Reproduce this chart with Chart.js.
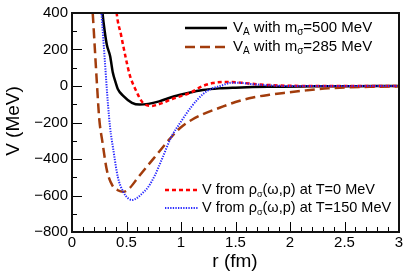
<!DOCTYPE html>
<html>
<head>
<meta charset="utf-8">
<script src="https://cdn.jsdelivr.net/npm/chart.js@4.4.0/dist/chart.umd.min.js"></script>
<style>
  html, body { margin: 0; padding: 0; background: #fff; }
  canvas { display: block; }
</style>
</head>
<body>
<canvas id="potential-chart" width="409" height="276"></canvas>
<script>
// r in fm, V in MeV
const rBlack = [0.27, 0.28, 0.30, 0.32, 0.35, 0.375, 0.40, 0.42, 0.47, 0.55, 0.62, 0.70, 0.80, 0.94, 1.05, 1.20, 1.35, 1.50, 1.80, 2.20, 2.60, 3.00];
const vBlack = [480, 400, 300, 225, 163, 72, 20, -16, -54, -92, -102, -98, -84, -56, -40, -22, -13, -9, -4, -2, -1, 0];

const rBrown = [0.18, 0.19, 0.21, 0.23, 0.25, 0.28, 0.32, 0.37, 0.42, 0.47, 0.52, 0.61, 0.76, 0.91, 1.00, 1.10, 1.20, 1.36, 1.50, 1.66, 1.81, 1.97, 2.15, 2.35, 2.55, 2.80, 3.00];
const vBrown = [480, 400, 200, 0, -180, -310, -462, -545, -571, -580, -565, -498, -389, -281, -226, -185, -155, -118, -88, -63, -48, -36, -24, -13, -7, -4, -2];

const rRed = [0.40, 0.41, 0.45, 0.49, 0.53, 0.58, 0.65, 0.73, 0.82, 0.92, 1.08, 1.20, 1.29, 1.42, 1.55, 1.69, 1.85, 2.00, 2.50, 3.00];
const vRed = [480, 400, 280, 163, 60, -16, -92, -109, -95, -71, -38, 0, 16, 22, 18, 10, 4, 1, 0, 0];

const rBlue = [0.26, 0.27, 0.30, 0.33, 0.35, 0.38, 0.42, 0.47, 0.52, 0.55, 0.60, 0.65, 0.70, 0.76, 0.82, 0.91, 1.00, 1.10, 1.20, 1.28, 1.36, 1.47, 1.55, 1.66, 1.80, 2.00, 2.50, 3.00];
const vBlue = [480, 400, 150, -100, -230, -353, -498, -580, -618, -625, -612, -585, -553, -490, -408, -281, -195, -110, -45, -15, 0, 18, 17, 10, 4, 0, 0, 0];

const xTicks = [0, 0.5, 1, 1.5, 2, 2.5, 3];
const yTicks = [-800, -600, -400, -200, 0, 200, 400];

function pts(xs, ys) { return xs.map((x, i) => ({ x: x, y: ys[i] })); }

const FONT = '"Liberation Sans", Arial, Helvetica, sans-serif';

// legend entries: text pieces, sub = subscript
const legendTop = [
    { color: '#000', dash: [], width: 2.5, parts: [['V'], ['A', 1], [' with m'], ['\u03c3', 1], ['=500 MeV']] },
    { color: '#a23c0c', dash: [10, 5], width: 2.5, parts: [['V'], ['A', 1], [' with m'], ['\u03c3', 1], ['=285 MeV']] }
];
const legendBottom = [
    { color: '#ff0000', dash: [4, 3], width: 2.5, parts: [['V from \u03c1'], ['\u03c3', 1], ['(\u03c9,p) at T=0 MeV']] },
    { color: '#2a2aff', dash: [1.3, 1.3], width: 2, parts: [['V from \u03c1'], ['\u03c3', 1], ['(\u03c9,p) at T=150 MeV']] }
];

function drawEntry(ctx, e, x0, x1, tx, y, size) {
    ctx.save();
    ctx.strokeStyle = e.color;
    ctx.lineWidth = e.width;
    ctx.setLineDash(e.dash);
    ctx.beginPath();
    ctx.moveTo(x0, y);
    ctx.lineTo(x1, y);
    ctx.stroke();
    ctx.restore();
    ctx.fillStyle = '#000';
    ctx.textBaseline = 'middle';
    ctx.textAlign = 'left';
    let x = tx;
    e.parts.forEach(p => {
        const sub = p[1];
        ctx.font = (sub ? Math.round(size * 0.65) : size) + 'px ' + FONT;
        ctx.fillText(p[0], x, sub ? y + size * 0.3 : y);
        x += ctx.measureText(p[0]).width;
    });
}

const rootStyle = {
    id: 'rootStyle',
    afterDatasetsDraw(chart) {
        const ctx = chart.ctx;
        const a = chart.chartArea;
        const xs = chart.scales.x, ys = chart.scales.y;
        ctx.save();
        // ticks pointing inward
        ctx.strokeStyle = '#000';
        ctx.lineWidth = 1;
        for (let i = 0; i <= 30; i++) {
            const px = Math.round(xs.getPixelForValue(i / 10)) + 0.5;
            const len = i % 5 === 0 ? 10 : 5;
            ctx.beginPath();
            ctx.moveTo(px, a.bottom);
            ctx.lineTo(px, a.bottom - len);
            ctx.stroke();
        }
        for (let v = -800; v <= 400; v += 100) {
            const py = Math.round(ys.getPixelForValue(v)) + 0.5;
            const len = v % 200 === 0 ? 10 : 5;
            ctx.beginPath();
            ctx.moveTo(a.left, py);
            ctx.lineTo(a.left + len, py);
            ctx.stroke();
        }
        // frame
        ctx.lineWidth = 2;
        ctx.strokeStyle = '#111';
        ctx.strokeRect(a.left, a.top, a.right - a.left, a.bottom - a.top);

        // axis titles
        ctx.fillStyle = '#000';
        ctx.font = '19px ' + FONT;
        ctx.textAlign = 'center';
        ctx.textBaseline = 'middle';
        ctx.fillText('r (fm)', 235, 262);
        ctx.save();
        ctx.translate(14, 121);
        ctx.rotate(-Math.PI / 2);
        ctx.fillText('V (MeV)', 0, 0);
        ctx.restore();

        // legends
        drawEntry(ctx, legendTop[0], 185, 227, 233, 28, 15);
        drawEntry(ctx, legendTop[1], 185, 227, 233, 47, 15);
        drawEntry(ctx, legendBottom[0], 165, 198, 202, 190, 14.5);
        drawEntry(ctx, legendBottom[1], 165, 198, 202, 208, 14.5);
        ctx.restore();
    }
};

const ctx = document.getElementById('potential-chart').getContext('2d');

const chart = new Chart(ctx, {
    type: 'scatter',
    data: {
        datasets: [
            { label: 'blue', data: pts(rBlue, vBlue), borderColor: '#2a2aff', borderWidth: 2, borderDash: [1.3, 1.3], order: 1 },
            { label: 'red', data: pts(rRed, vRed), borderColor: '#ff0000', borderWidth: 2.5, borderDash: [4, 3], order: 2 },
            { label: 'brown', data: pts(rBrown, vBrown), borderColor: '#a23c0c', borderWidth: 2.5, borderDash: [10, 5], order: 3 },
            { label: 'black', data: pts(rBlack, vBlack), borderColor: '#000', borderWidth: 2.5, order: 4 }
        ].map(d => Object.assign(d, { showLine: true, pointRadius: 0, cubicInterpolationMode: 'monotone', clip: 0, fill: false }))
    },
    options: {
        responsive: false,
        animation: false,
        events: [],
        layout: { padding: { top: 11, right: 10, left: 0, bottom: 0 } },
        plugins: { legend: { display: false }, tooltip: { enabled: false }, title: { display: false } },
        scales: {
            x: {
                type: 'linear', min: 0, max: 3,
                afterBuildTicks: s => { s.ticks = xTicks.map(v => ({ value: v })); },
                afterFit: s => { s.height = 44; },
                grid: { display: false, drawTicks: false },
                border: { display: false },
                ticks: { color: '#000', font: { family: FONT, size: 15 }, padding: 2, maxRotation: 0,
                    callback: v => String(v) }
            },
            y: {
                type: 'linear', min: -800, max: 400,
                afterBuildTicks: s => { s.ticks = yTicks.map(v => ({ value: v })); },
                afterFit: s => { s.width = 72; },
                grid: { display: false, drawTicks: false },
                border: { display: false },
                ticks: {
                    color: '#000', font: { family: FONT, size: 15 }, padding: 4,
                    callback: v => String(v).replace('-', '\u2212')
                }
            }
        }
    },
    plugins: [rootStyle]
});
</script>
</body>
</html>
